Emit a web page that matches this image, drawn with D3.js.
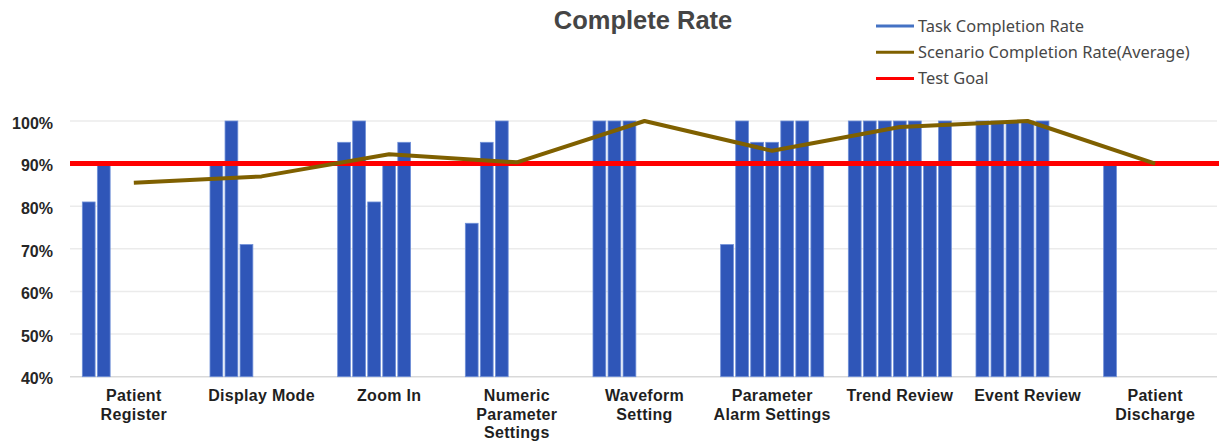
<!DOCTYPE html>
<html>
<head>
<meta charset="utf-8">
<script src="https://cdn.jsdelivr.net/npm/d3@7"></script>
<style>
  html, body { margin: 0; padding: 0; background: #fff; }
  svg { display: block; }
</style>
</head>
<body>
<div id="chart"></div>
<script>
// Scenario categories (line breaks mark wrapped label lines)
const categories = [
  "Patient\nRegister", "Display Mode", "Zoom In", "Numeric\nParameter\nSettings",
  "Waveform\nSetting", "Parameter\nAlarm Settings", "Trend Review", "Event Review",
  "Patient\nDischarge"
];
// Task completion rate (%) for each task within a scenario
const taskRates = [
  [81, 90],
  [90, 100, 71],
  [95, 100, 81, 90, 95],
  [76, 95, 100],
  [100, 100, 100],
  [71, 100, 95, 95, 100, 100, 90],
  [100, 100, 100, 100, 100, 90, 100],
  [100, 100, 100, 100, 100],
  [90]
];
// Average completion rate (%) per scenario
const scenarioAvg = [85.5, 87, 92.2, 90.3, 100, 93, 98.6, 100, 90];
// Target completion rate (%)
const testGoal = 90;
// Y axis ticks (%)
const yTicks = [40, 50, 60, 70, 80, 90, 100];
const legendItems = ["Task Completion Rate", "Scenario Completion Rate(Average)", "Test Goal"];
const maxTasks = 7;

const W = 1219, H = 441;
const plot = { left: 70, right: 1219, top: 121, bottom: 376.7 };

const svg = d3.select("#chart").append("svg")
  .attr("width", W).attr("height", H)
  .style("font-family", "'Liberation Sans', Arial, sans-serif");

const x0 = d3.scaleBand().domain(d3.range(categories.length))
  .range([plot.left, plot.right]).padding(0);
const x1 = d3.scaleBand().domain(d3.range(maxTasks))
  .range([0, x0.bandwidth()]).paddingInner(0.15).paddingOuter(0.82);
const y = d3.scaleLinear().domain([40, 100]).range([plot.bottom, plot.top]);

// Gridlines
svg.append("g").selectAll("line").data(yTicks).join("line")
  .attr("x1", plot.left).attr("x2", 1217)
  .attr("y1", d => y(d)).attr("y2", d => y(d))
  .attr("stroke", d => d === 40 ? "#d9d9d9" : "#ebebeb")
  .attr("stroke-width", 1.5);

// Y axis labels
const yAxis = svg.append("g")
  .attr("transform", `translate(${plot.left},0)`)
  .call(d3.axisLeft(y).tickValues(yTicks).tickFormat(d => d + "%").tickSize(0).tickPadding(17));
yAxis.select(".domain").remove();
yAxis.selectAll("text")
  .attr("dy", "0.45em")
  .style("font-size", "16px").style("font-weight", "bold")
  .style("font-family", "'Liberation Sans', Arial, sans-serif")
  .attr("fill", "#262626");

// Task bars
const groups = svg.append("g").selectAll("g").data(taskRates).join("g")
  .attr("transform", (d, i) => `translate(${x0(i)},0)`);
groups.selectAll("rect").data(d => d).join("rect")
  .attr("x", (d, j) => x1(j))
  .attr("width", x1.bandwidth())
  .attr("y", d => y(d))
  .attr("height", d => y(40) - y(d))
  .attr("fill", "#2f56b8")
  .attr("stroke", "#6f90d8")
  .attr("stroke-width", 0.8);

// Test goal line
svg.append("line")
  .attr("x1", plot.left).attr("x2", plot.right)
  .attr("y1", y(testGoal)).attr("y2", y(testGoal))
  .attr("stroke", "#ff0000").attr("stroke-width", 5);

// Scenario average line
const line = d3.line()
  .x((d, i) => x0(i) + x0.bandwidth() / 2)
  .y(d => y(d));
svg.append("path").datum(scenarioAvg)
  .attr("d", line)
  .attr("fill", "none")
  .attr("stroke", "#7f6000")
  .attr("stroke-width", 4)
  .attr("stroke-linejoin", "round");

// Category labels
const xAxis = svg.append("g")
  .attr("transform", `translate(0,${plot.bottom})`)
  .call(d3.axisBottom(x0).tickSize(0).tickFormat(""));
xAxis.select(".domain").remove();
xAxis.selectAll(".tick").each(function(i) {
  const t = d3.select(this).append("text")
    .attr("text-anchor", "middle")
    .attr("fill", "#1f1f1f")
    .style("font-size", "16px").style("font-weight", "bold")
    .style("letter-spacing", "0.3px")
    .attr("y", 24.8);
  categories[i].split("\n").forEach((s, k) => {
    t.append("tspan").attr("x", 0).attr("dy", k === 0 ? 0 : 18.5).text(s);
  });
});

// Title
svg.append("text")
  .attr("x", 643).attr("y", 29)
  .attr("text-anchor", "middle")
  .attr("fill", "#454545")
  .style("font-size", "25.5px").style("font-weight", "bold")
  .text("Complete Rate");

// Legend
const legendColors = ["#4472c4", "#7f6000", "#ff0000"];
const lg = svg.append("g").selectAll("g").data(legendItems).join("g")
  .attr("transform", (d, i) => `translate(876,${26 + i * 26.2})`);
lg.append("line").attr("x1", 0).attr("x2", 38).attr("y1", 0).attr("y2", 0)
  .attr("stroke", (d, i) => legendColors[i]).attr("stroke-width", 3);
lg.append("text").attr("x", 42).attr("dy", "0.36em")
  .attr("fill", "#474747")
  .style("font-family", "'Noto Sans', sans-serif")
  .style("font-size", "16.4px")
  .text(d => d);
</script>
</body>
</html>
